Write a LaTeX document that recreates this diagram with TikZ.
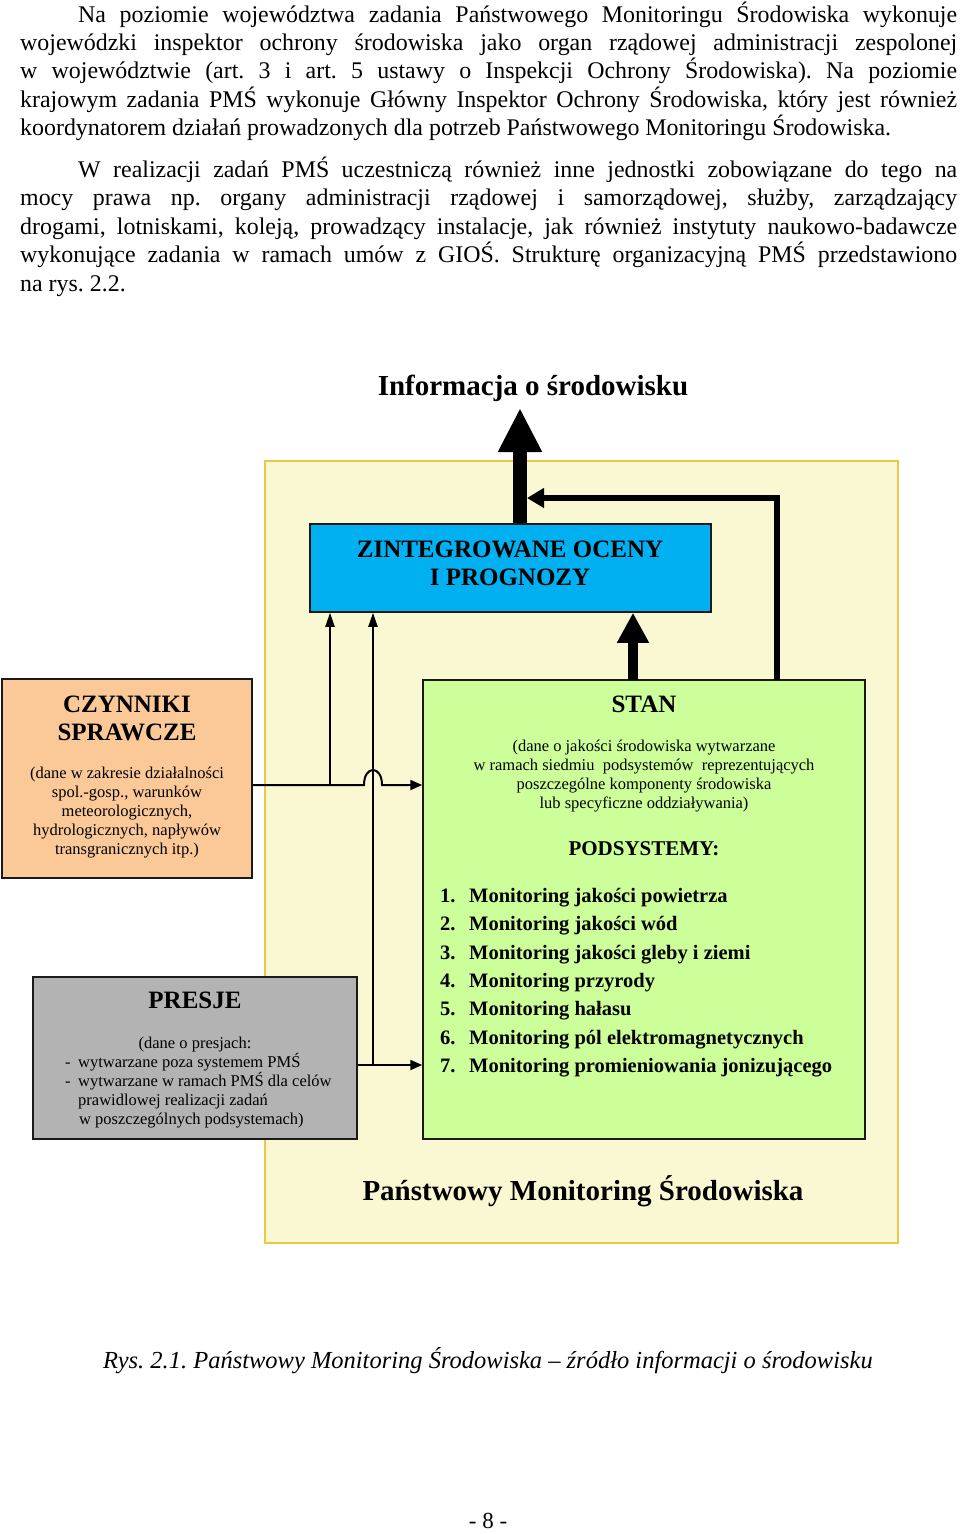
\documentclass[tikz,border=0pt]{standalone}
\usepackage{fontspec}
\setmainfont{Liberation Serif}
\usetikzlibrary{arrows.meta}
\definecolor{cblue}{HTML}{00B0F0}
\definecolor{cpeach}{HTML}{FBC897}
\definecolor{cgray}{HTML}{B3B3B3}
\definecolor{cgreen}{HTML}{CCFF99}
\definecolor{cyel}{HTML}{FAF7D3}
\definecolor{cyelb}{HTML}{EEC844}
\definecolor{cedge}{HTML}{1A1A1A}
\frenchspacing
\begin{document}
\begin{tikzpicture}[x=1pt,y=-1pt,
  body/.style={font=\fontsize{23.9}{28}\selectfont\frenchspacing, anchor=base west, inner sep=0pt},
  box/.style={draw=cedge, line width=1.5pt, inner sep=0pt},
  ttl/.style={font=\fontsize{25}{30}\selectfont\bfseries, anchor=base, inner sep=0pt},
  sm/.style={font=\fontsize{16.5}{19}\selectfont, anchor=base, inner sep=0pt},
  smw/.style={font=\fontsize{16.5}{19}\selectfont, anchor=base west, inner sep=0pt},
  lst/.style={font=\fontsize{20.5}{24}\selectfont\bfseries, anchor=base west, inner sep=0pt},
  thinarr/.style={line width=2pt, -{Triangle[length=14pt,width=9pt]}},
  hlarr/.style={line width=2pt, -{Triangle[length=12pt,width=10pt]}}
]
\useasboundingbox (0,0) rectangle (960,1534);
\fill[white] (0,0) rectangle (960,1534);

% body text
\node[body] (p1) at (78,22) {\makebox[879pt][s]{Na poziomie województwa zadania Państwowego Monitoringu Środowiska wykonuje}};
\node[body] (p2) at (20,50) {\makebox[937pt][s]{wojewódzki inspektor ochrony środowiska jako organ rządowej administracji zespolonej}};
\node[body] (p3) at (20,78) {\makebox[937pt][s]{w województwie (art. 3 i art. 5 ustawy o Inspekcji Ochrony Środowiska). Na poziomie}};
\node[body] (p4) at (20,107) {\makebox[937pt][s]{krajowym zadania PMŚ wykonuje Główny Inspektor Ochrony Środowiska, który jest również}};
\node[body] (p5) at (20,135) {koordynatorem działań prowadzonych dla potrzeb Państwowego Monitoringu Środowiska.};
\node[body] (q1) at (78,177) {\makebox[879pt][s]{W realizacji zadań PMŚ uczestniczą również inne jednostki zobowiązane do tego na}};
\node[body] (q2) at (20,205) {\makebox[937pt][s]{mocy prawa np. organy administracji rządowej i samorządowej, służby, zarządzający}};
\node[body] (q3) at (20,234) {\makebox[937pt][s]{drogami, lotniskami, koleją, prowadzący instalacje, jak również instytuty naukowo-badawcze}};
\node[body] (q4) at (20,262) {\makebox[937pt][s]{wykonujące zadania w ramach umów z GIOŚ. Strukturę organizacyjną PMŚ przedstawiono}};
\node[body] (q5) at (20,291) {na rys. 2.2.};

% heading
\node[font=\fontsize{29}{34}\selectfont\bfseries, anchor=base, inner sep=0pt] (info) at (533,395) {Informacja o środowisku};

% big yellow frame
\node[draw=cyelb, fill=cyel, line width=2pt, minimum width=633pt, minimum height=782pt, inner sep=0pt] (pms) at (581.5,852) {};
\node[font=\fontsize{29}{34}\selectfont\bfseries, anchor=base, inner sep=0pt] (pmslbl) at (583,1200) {Państwowy Monitoring Środowiska};

% boxes
\node[box, fill=cblue, minimum width=401pt, minimum height=88pt] (zint) at (510.5,568) {};
\node[box, fill=cpeach, minimum width=250pt, minimum height=199pt] (czyn) at (127,778.5) {};
\node[box, fill=cgray, minimum width=324pt, minimum height=162pt] (presje) at (195,1058) {};
\node[box, fill=cgreen, minimum width=442pt, minimum height=459pt] (stan) at (644,909.5) {};

% coordinates
\coordinate (top) at (520,408);
\coordinate (fb) at (520,498);
\coordinate (s1) at (633,680);
\coordinate (s2) at (777,680);
\coordinate (j1) at (330,785);
\coordinate (j2) at (373,1065);
\coordinate (hopL) at (364,785);
\coordinate (hopR) at (382,785);

% connectors
\draw[line width=14pt, -{Triangle[length=44pt,width=41pt]}] (zint.north -| top) -- (top);
\draw[line width=6.5pt, line join=miter, -{Triangle[length=17pt,width=19pt]}, shorten >=7pt] (s2) |- (fb);
\draw[line width=10pt, -{Triangle[length=30pt,width=30pt]}] (s1) -- (s1 |- zint.south);
\draw[thinarr] (j1) -- (j1 |- zint.south);
\draw[thinarr] (j2) -- (j2 |- zint.south);
\draw[hlarr] (czyn.east |- j1) -- (hopL) .. controls +(0,-20) and +(0,-20) .. (hopR) -- (stan.west |- j1);
\draw[hlarr] (presje.east |- j2) -- (stan.west |- j2);

% zint text
\node[ttl] (z1) at (510,557) {ZINTEGROWANE OCENY};
\node[ttl] (z2) at (510,585) {I PROGNOZY};

% czynniki text
\node[ttl] (c1) at (127,712) {CZYNNIKI};
\node[ttl] (c2) at (127,740) {SPRAWCZE};
\node[sm] (c3) at (127,778) {(dane w zakresie działalności};
\node[sm] (c4) at (127,797) {spol.-gosp., warunków};
\node[sm] (c5) at (127,816) {meteorologicznych,};
\node[sm] (c6) at (127,835) {hydrologicznych, napływów};
\node[sm] (c7) at (127,854) {transgranicznych itp.)};

% presje text
\node[ttl] (r1) at (195,1008) {PRESJE};
\node[sm] (r2) at (195,1048) {(dane o presjach:};
\node[smw] (r3) at (65,1067) {\makebox[13pt][l]{-}wytwarzane poza systemem PMŚ};
\node[smw] (r4) at (65,1086) {\makebox[13pt][l]{-}wytwarzane w ramach PMŚ dla celów};
\node[smw] (r5) at (78,1105) {prawidlowej realizacji zadań};
\node[smw] (r6) at (79,1124) {w poszczególnych podsystemach)};

% stan text
\node[ttl] (st1) at (644,712) {STAN};
\node[sm] (st2) at (644,751) {(dane o jakości środowiska wytwarzane};
\node[sm] (st3) at (644,770) {w ramach siedmiu\ \ podsystemów\ \ reprezentujących};
\node[sm] (st4) at (644,789) {poszczególne komponenty środowiska};
\node[sm] (st5) at (644,808) {lub specyficzne oddziaływania)};
\node[font=\fontsize{21}{25}\selectfont\bfseries, anchor=base, inner sep=0pt] (st6) at (644,855) {PODSYSTEMY:};
\node[lst] (l1) at (440,902) {\makebox[29pt][l]{1.}Monitoring jakości powietrza};
\node[lst] (l2) at (440,930.5) {\makebox[29pt][l]{2.}Monitoring jakości wód};
\node[lst] (l3) at (440,959) {\makebox[29pt][l]{3.}Monitoring jakości gleby i ziemi};
\node[lst] (l4) at (440,987) {\makebox[29pt][l]{4.}Monitoring przyrody};
\node[lst] (l5) at (440,1015) {\makebox[29pt][l]{5.}Monitoring hałasu};
\node[lst] (l6) at (440,1044) {\makebox[29pt][l]{6.}Monitoring pól elektromagnetycznych};
\node[lst] (l7) at (440,1072) {\makebox[29pt][l]{7.}Monitoring promieniowania jonizującego};

% caption and page number
\node[font=\fontsize{24.5}{29}\selectfont\itshape, anchor=base, inner sep=0pt] (cap) at (488,1368) {Rys. 2.1. Państwowy Monitoring Środowiska – źródło informacji o środowisku};
\node[font=\fontsize{23}{27}\selectfont, anchor=base, inner sep=0pt] (pg) at (488,1528) {- 8 -};
\end{tikzpicture}
\end{document}
